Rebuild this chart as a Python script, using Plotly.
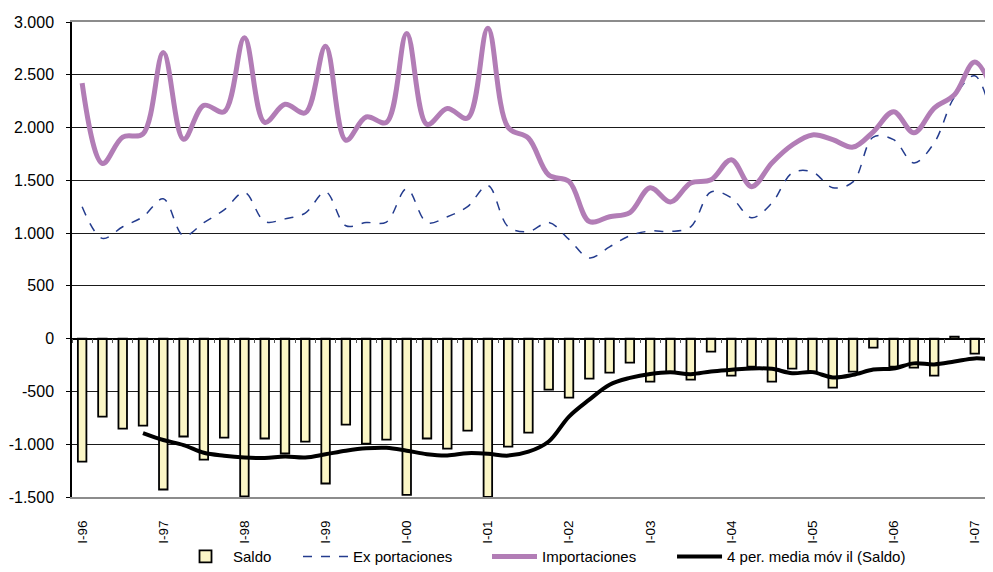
import plotly.graph_objects as go

years = ["96", "97", "98", "99", "00", "01", "02", "03", "04", "05", "06", "07"]
quarter_names = ["I", "II", "III", "IV"]
quarters = [f"{q}-{y}" for y in years for q in quarter_names][:46]

tick_labels = ["I-96", "I-97", "I-98", "I-99", "I-00", "I-01", "I-02", "I-03",
               "I-04", "I-05", "I-06", "I-07"]

saldo = [-1164, -738, -852, -823, -1429, -927, -1145, -937, -1495, -946, -1088, -975,
         -1372, -814, -994, -956, -1480, -946, -1041, -871, -1500, -1022, -890, -483,
         -558, -379, -322, -227, -407, -320, -388, -123, -350, -265, -407, -284,
         -312, -464, -312, -85, -265, -274, -350, 20, -142, -331]

exportaciones = [1250, 950, 1060, 1155, 1325, 975, 1100, 1220, 1385, 1110, 1135, 1190,
                 1390, 1070, 1100, 1105, 1420, 1100, 1155, 1250, 1450, 1060, 1015, 1100,
                 940, 765, 870, 975, 1020, 1015, 1060, 1390, 1335, 1145, 1285, 1570,
                 1580, 1430, 1485, 1910, 1885, 1665, 1855, 2290, 2490, 1970]

importaciones = [2420, 1660, 1910, 1940, 2710, 1890, 2210, 2150, 2850, 2050, 2220, 2140,
                 2770, 1880, 2100, 2050, 2890, 2030, 2180, 2090, 2940, 2000, 1900, 1550,
                 1490, 1110, 1155, 1195, 1430, 1295, 1475, 1505, 1695, 1440, 1665, 1835,
                 1930, 1885, 1815, 1960, 2150, 1950, 2185, 2310, 2620, 2300]

media_movil = [None, None, None, -894, -960, -1008, -1081, -1109, -1126, -1131, -1117, -1126,
               -1095, -1062, -1039, -1034, -1061, -1094, -1106, -1085, -1090, -1108, -1071, -974,
               -738, -578, -436, -372, -334, -319, -336, -310, -295, -282, -286, -327,
               -317, -367, -343, -293, -282, -234, -244, -217, -187, -201]

y_ticks = [3000, 2500, 2000, 1500, 1000, 500, 0, -500, -1000, -1500]
y_tick_text = ["3.000", "2.500", "2.000", "1.500", "1.000", "500", "0", "-500", "-1.000", "-1.500"]

font_family = "Liberation Sans, Arial, sans-serif"

fig = go.Figure()
fig.add_trace(go.Bar(
    x=quarters, y=saldo, name="Saldo", width=0.42,
    marker=dict(color="#FBF6C6", line=dict(color="black", width=1.8)),
    xaxis="x", yaxis="y", legend="legend"))
fig.add_trace(go.Scatter(
    x=quarters, y=exportaciones, name="Ex portaciones", mode="lines",
    line=dict(color="#243C8E", width=1.5, dash="dash", shape="spline"),
    xaxis="x2", yaxis="y", legend="legend2"))
fig.add_trace(go.Scatter(
    x=quarters, y=importaciones, name="Importaciones", mode="lines",
    line=dict(color="#B27DB6", width=5, shape="spline"),
    xaxis="x2", yaxis="y", legend="legend3"))
fig.add_trace(go.Scatter(
    x=quarters, y=media_movil, name="4 per. media móv il (Saldo)", mode="lines",
    line=dict(color="black", width=4, shape="spline"),
    xaxis="x2", yaxis="y", legend="legend4"))

legend_common = dict(orientation="h", xanchor="left", y=-0.091, yanchor="top",
                     font=dict(family=font_family, size=15, color="black"),
                     itemwidth=45, bgcolor="rgba(0,0,0,0)", borderwidth=0)

xr = [-0.5, 44.9]
fig.update_layout(
    width=985, height=564,
    margin=dict(l=64, r=0, t=14, b=75, autoexpand=False),
    paper_bgcolor="white", plot_bgcolor="white",
    showlegend=True,
    legend=dict(x=0.1151, **legend_common),
    legend2=dict(x=0.2454, **legend_common),
    legend3=dict(x=0.4506, **legend_common),
    legend4=dict(x=0.6515, **legend_common),
    xaxis=dict(type="category", categoryorder="array", categoryarray=quarters,
               range=xr, tickmode="array", tickvals=tick_labels, ticktext=tick_labels,
               tickangle=-90, ticks="", showgrid=False, zeroline=False,
               showline=True, linecolor="#8c8c8c", linewidth=2, mirror=True,
               tickfont=dict(family=font_family, size=13.5, color="black"),
               ticklabelstandoff=16, automargin=False),
    xaxis2=dict(type="category", categoryorder="array", categoryarray=quarters,
                range=xr, overlaying="x", anchor="free", position=1/3, side="bottom",
                showticklabels=False, ticks="outside", tickson="boundaries",
                ticklen=4, tickcolor="#555", tickwidth=1, showgrid=False,
                showline=True, linecolor="black", linewidth=1.5, zeroline=False,
                automargin=False),
    yaxis=dict(range=[-1500, 3000], tickmode="array", tickvals=y_ticks, ticktext=y_tick_text,
               showgrid=True, gridcolor="#1a1a1a", gridwidth=1, zeroline=False,
               showline=True, linecolor="black", linewidth=1.5,
               ticks="outside", ticklen=4, tickcolor="black",
               tickfont=dict(family=font_family, size=16, color="black"),
               ticklabelstandoff=9, automargin=False),
)

fig.write_html("out.html")
